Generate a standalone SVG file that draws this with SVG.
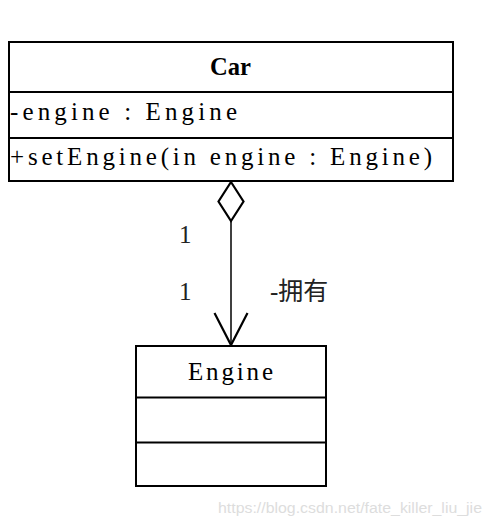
<svg xmlns="http://www.w3.org/2000/svg" width="493" height="526" viewBox="0 0 493 526">
<style>
.box{fill:#fff;stroke:#000;stroke-width:2}
.div{stroke:#000;stroke-width:2}
.t{font-family:"Liberation Serif","Noto Sans CJK SC",serif;font-size:25px;fill:#000}
.lbl{font-family:"Liberation Serif","Noto Sans CJK SC",serif;font-size:25px;fill:#222}
.wm{font-family:"Liberation Sans",Arial,sans-serif;font-size:15.5px;fill:#ddd}
</style>
<rect width="493" height="526" fill="#fff"/>
<g id="connectors">
<line x1="231" y1="221" x2="231" y2="345" stroke="#000" stroke-width="1.5"/>
<polygon points="231,182 243.5,201.5 231,221 218.5,201.5" fill="#fff" stroke="#000" stroke-width="2.2"/>
<polyline points="214.5,313 231,345 247.5,313" fill="none" stroke="#000" stroke-width="2.2"/>
<text class="lbl" x="179" y="243">1</text>
<text class="lbl" x="179" y="300">1</text>
<text class="lbl" x="270" y="300">-拥有</text>
</g>
<g id="car">
<rect class="box" x="9" y="42" width="444" height="139"/>
<line class="div" x1="9" y1="92" x2="453" y2="92"/>
<line class="div" x1="9" y1="138" x2="453" y2="138"/>
<text class="t" x="210" y="75" font-weight="bold" textLength="41" lengthAdjust="spacingAndGlyphs">Car</text>
<text class="t" x="10" y="120" textLength="227" lengthAdjust="spacing">-engine : Engine</text>
<text class="t" x="10" y="165" textLength="422" lengthAdjust="spacing">+setEngine(in engine : Engine)</text>
</g>
<g id="engine">
<rect class="box" x="136" y="346" width="190" height="140"/>
<line class="div" x1="136" y1="397.5" x2="326" y2="397.5"/>
<line class="div" x1="136" y1="442.5" x2="326" y2="442.5"/>
<text class="t" x="188" y="380" textLength="85" lengthAdjust="spacing">Engine</text>
</g>
<text class="wm" x="218" y="513" textLength="264" lengthAdjust="spacingAndGlyphs">https://blog.csdn.net/fate_killer_liu_jie</text>
</svg>
